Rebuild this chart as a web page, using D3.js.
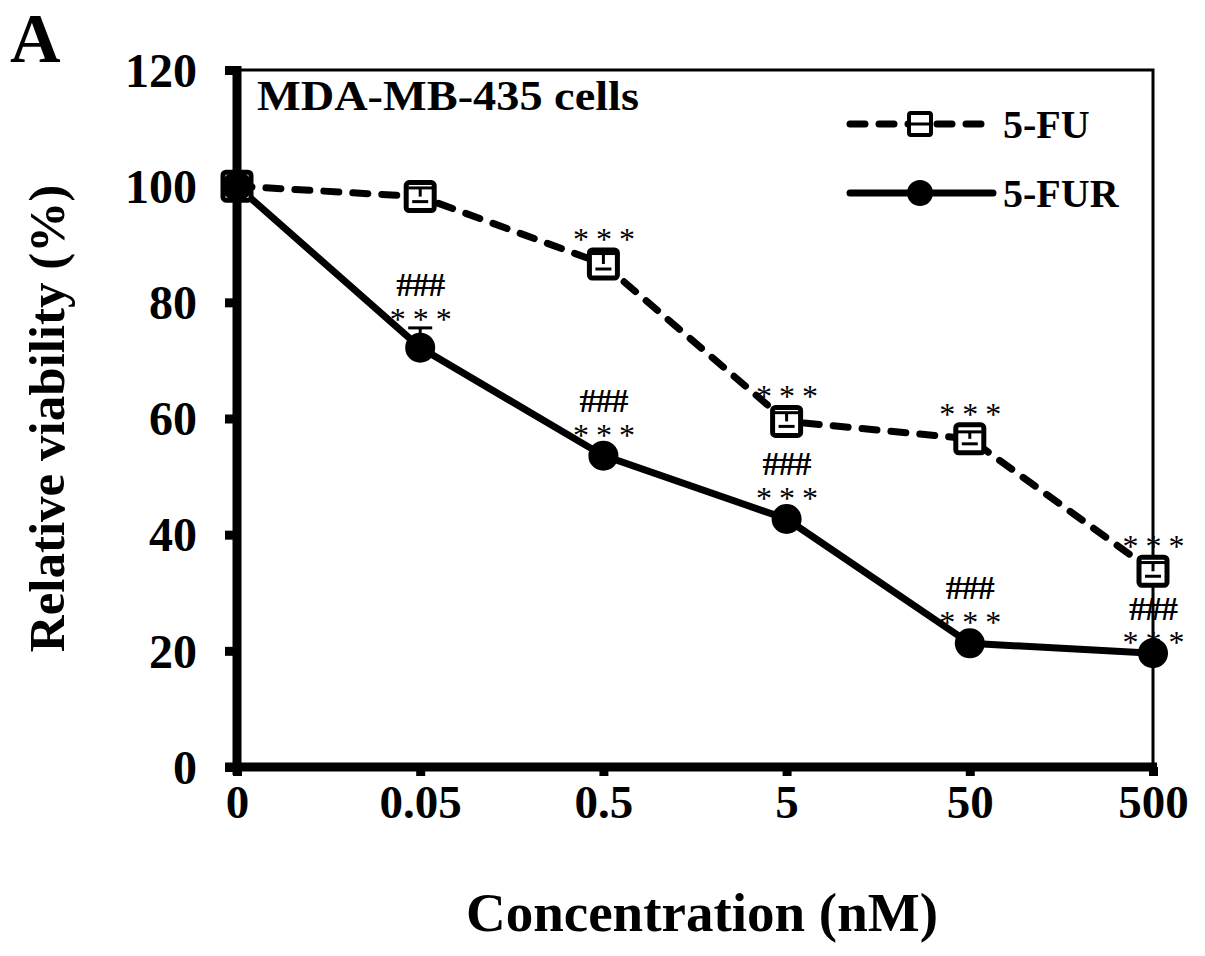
<!DOCTYPE html>
<html>
<head>
<meta charset="utf-8">
<script src="https://cdn.jsdelivr.net/npm/d3@7"></script>
<style>
  body { margin: 0; background: #fff; }
  text { font-family: "Liberation Serif", "Times New Roman", serif; font-weight: bold; fill: #000; }
</style>
</head>
<body>
<div id="chart-div"></div>
<script>
// data
var concentrations = ["0", "0.05", "0.5", "5", "50", "500"];
var fuValues  = [100, 98.2, 86.6, 59.5, 56.5, 33.7];
var fuErr     = [1.2, 1.5, 1.8, 1.5, 1.2, 1.5];
var furValues = [100, 72.2, 53.6, 42.7, 21.3, 19.6];
var furErr    = [1.2, 3.4, 1.2, 1.0, 1.0, 1.0];
var fuMarks   = ["", "", "***", "***", "***", "***"];
var furMarks  = ["", "###\n***", "###\n***", "###\n***", "###\n***", "###\n***"];
var yTicks    = [0, 20, 40, 60, 80, 100, 120];

var width = 1205, height = 956;
var margin = {top: 70, right: 52, bottom: 189, left: 237};

var svg = d3.select('#chart-div')
    .append('svg')
    .attr("width", width)
    .attr("height", height);

var x = d3.scalePoint()
    .domain(concentrations)
    .range([margin.left, width - margin.right]);

var y = d3.scaleLinear()
    .domain([0, 120])
    .range([height - margin.bottom, margin.top]);

var x0 = margin.left, x1 = width - margin.right, yb = y(0), yt = y(120);

// thin frame top and right
svg.append("path")
    .attr("d", "M" + x0 + "," + yt + "H" + x1 + "V" + yb)
    .attr("fill", "none")
    .attr("stroke", "#000")
    .attr("stroke-width", 3);

// y axis
var yAxis = d3.axisLeft(y).tickValues(yTicks).tickSize(12).tickPadding(28);
var gy = svg.append("g")
    .attr("transform", "translate(" + x0 + ",0)")
    .call(yAxis);
gy.select(".domain").remove();
gy.selectAll(".tick line").attr("stroke-width", 9);
gy.selectAll(".tick text").style("font-size", "48px").attr("dy", "0.34em");
svg.append("line")
    .attr("x1", x0).attr("x2", x0)
    .attr("y1", yt - 4).attr("y2", yb + 8)
    .attr("stroke", "#000").attr("stroke-width", 9);

// x axis
var xAxis = d3.axisBottom(x).tickSize(9).tickPadding(0);
var gx = svg.append("g")
    .attr("transform", "translate(0," + yb + ")")
    .call(xAxis);
gx.select(".domain").remove();
gx.selectAll(".tick line").attr("stroke-width", 9);
gx.selectAll(".tick text").style("font-size", "47px").attr("dy", "0.9em");
svg.append("line")
    .attr("x1", x0 - 12).attr("x2", x1 + 4)
    .attr("y1", yb).attr("y2", yb)
    .attr("stroke", "#000").attr("stroke-width", 9);

// axis titles
svg.append("text")
    .attr("x", 702)
    .attr("y", 931)
    .attr("text-anchor", "middle")
    .style("font-size", "55px")
    .text("Concentration (nM)");

svg.append("text")
    .attr("transform", "translate(64," + ((yt + yb) / 2) + ") rotate(-90)")
    .attr("text-anchor", "middle")
    .style("font-size", "51px")
    .text("Relative viability (%)");

svg.append("text")
    .attr("x", 10).attr("y", 62)
    .style("font-size", "70px")
    .text("A");

svg.append("text")
    .attr("x", 257).attr("y", 110)
    .style("font-size", "42px")
    .attr("textLength", 382)
    .attr("lengthAdjust", "spacingAndGlyphs")
    .text("MDA-MB-435 cells");

// lines
var lineGen = d3.line()
    .x(function(d, i) { return x(concentrations[i]); })
    .y(function(d) { return y(d); });

svg.append("path")
    .datum(furValues)
    .attr("d", lineGen)
    .attr("fill", "none")
    .attr("stroke", "#000")
    .attr("stroke-width", 7);

svg.append("path")
    .datum(fuValues)
    .attr("d", lineGen)
    .attr("fill", "none")
    .attr("stroke", "#000")
    .attr("stroke-width", 7)
    .attr("stroke-dasharray", "15,14")
    .attr("stroke-linecap", "round");

// error bars
function errBars(vals, errs, cls) {
    var g = svg.append("g").attr("class", cls);
    vals.forEach(function(v, i) {
        var cx = x(concentrations[i]);
        g.append("line")
            .attr("x1", cx).attr("x2", cx)
            .attr("y1", y(v)).attr("y2", y(v + errs[i]))
            .attr("stroke", "#000").attr("stroke-width", 3);
        g.append("line")
            .attr("x1", cx - 12).attr("x2", cx + 12)
            .attr("y1", y(v + errs[i])).attr("y2", y(v + errs[i]))
            .attr("stroke", "#000").attr("stroke-width", 3);
    });
}
errBars(furValues, furErr, "fur-err");

// markers
svg.selectAll(".fu-sq")
    .data(fuValues)
    .enter().append("rect")
    .attr("class", "fu-sq")
    .attr("x", function(d, i) { return x(concentrations[i]) - 14; })
    .attr("y", function(d) { return y(d) - 14; })
    .attr("width", 28).attr("height", 28)
    .attr("rx", 3)
    .attr("fill", "#fff")
    .attr("stroke", "#000")
    .attr("stroke-width", 5);
errBars(fuValues, fuErr, "fu-err");
svg.selectAll(".fu-inner")
    .data(fuValues)
    .enter().append("line")
    .attr("class", "fu-inner")
    .attr("x1", function(d, i) { return x(concentrations[i]) - 8; })
    .attr("x2", function(d, i) { return x(concentrations[i]) + 8; })
    .attr("y1", function(d) { return y(d) + 5; })
    .attr("y2", function(d) { return y(d) + 5; })
    .attr("stroke", "#000").attr("stroke-width", 3);

svg.selectAll(".fur-dot")
    .data(furValues)
    .enter().append("circle")
    .attr("class", "fur-dot")
    .attr("cx", function(d, i) { return x(concentrations[i]); })
    .attr("cy", function(d) { return y(d); })
    .attr("r", 15)
    .attr("fill", "#000");

// significance marks
function drawMark(str, cx, cy) {
    var isStar = str.indexOf("*") >= 0;
    svg.append("text")
        .attr("x", cx + (isStar ? 4 : 0))
        .attr("y", cy)
        .attr("dy", isStar ? "0.62em" : "0.35em")
        .attr("text-anchor", "middle")
        .style("font-size", isStar ? "32px" : "34px")
        .style("font-weight", isStar ? "normal" : "bold")
        .style("letter-spacing", isStar ? "7px" : "-1px")
        .text(str);
}
fuValues.forEach(function(v, i) {
    if (!fuMarks[i]) return;
    drawMark(fuMarks[i], x(concentrations[i]), y(v) - 34);
});
furValues.forEach(function(v, i) {
    if (!furMarks[i]) return;
    var rows = furMarks[i].split("\n");
    var errTop = y(v + furErr[i]);
    var starY = Math.min(y(v) - 30, errTop - 18);
    var hashY = starY - 26;
    // keep clear of the 5-FU square when the two points crowd
    var fuY = y(fuValues[i]);
    if (fuY < y(v) && hashY < fuY + 37) {
        hashY = fuY + 37;
        starY = hashY + 25;
    }
    drawMark(rows[0], x(concentrations[i]), hashY);
    drawMark(rows[1], x(concentrations[i]), starY);
});

// legend
var legend = svg.append("g").attr("class", "legend");
var legendData = [
    {name: "5-FU", y: 124, dash: "15,14"},
    {name: "5-FUR", y: 193, dash: null}
];
legendData.forEach(function(d) {
    legend.append("line")
        .attr("x1", 850).attr("x2", 993)
        .attr("y1", d.y).attr("y2", d.y)
        .attr("stroke", "#000")
        .attr("stroke-width", 7)
        .attr("stroke-linecap", "round")
        .attr("stroke-dasharray", d.dash);
    legend.append("text")
        .attr("x", 1003).attr("y", d.y + 14)
        .style("font-size", "40px")
        .text(d.name);
});
legend.append("rect")
    .attr("x", 909).attr("y", 113).attr("width", 22).attr("height", 22)
    .attr("rx", 2)
    .attr("fill", "#fff").attr("stroke", "#000").attr("stroke-width", 4);
legend.append("line")
    .attr("x1", 910).attr("x2", 930).attr("y1", 124).attr("y2", 124)
    .attr("stroke", "#000").attr("stroke-width", 3);
legend.append("circle")
    .attr("cx", 920).attr("cy", 193).attr("r", 13).attr("fill", "#000");
</script>
</body>
</html>
